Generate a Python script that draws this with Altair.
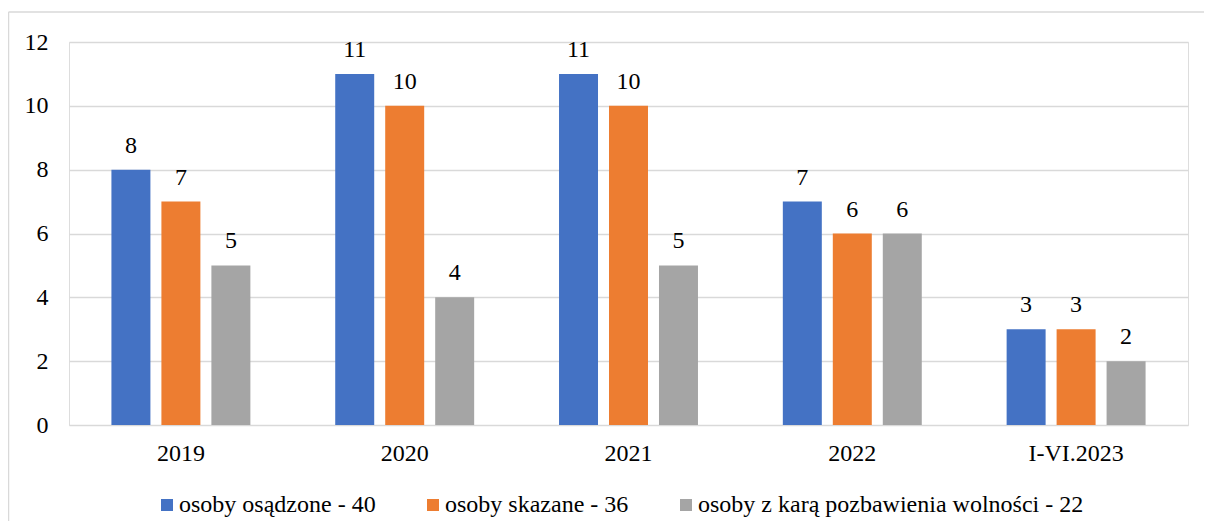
import altair as alt
import pandas as pd

years = ["2019", "2020", "2021", "2022", "I-VI.2023"]
series = ["osoby osądzone - 40", "osoby skazane - 36", "osoby z karą pozbawienia wolności - 22"]
osadzone = [8, 11, 11, 7, 3]
skazane = [7, 10, 10, 6, 3]
pozbawienie = [5, 4, 5, 6, 2]
colors = ["#4472C4", "#ED7D31", "#A5A5A5"]

rows = []
for s, vals in zip(series, [osadzone, skazane, pozbawienie]):
    for y, v in zip(years, vals):
        rows.append({"rok": y, "seria": s, "wartosc": v})
df = pd.DataFrame(rows)

FONT = "Times New Roman"
FS = 24

x_enc = alt.X("rok:N", sort=years, title=None,
              scale=alt.Scale(paddingInner=0.33, paddingOuter=0.165),
              axis=alt.Axis(labelAngle=0, domain=False, ticks=False, labelPadding=16,
                            labelFont=FONT, labelFontSize=FS, labelColor="#000000"))
xo_enc = alt.XOffset("seria:N", sort=series,
                     scale=alt.Scale(paddingInner=0.22, paddingOuter=0.11))
y_enc = alt.Y("wartosc:Q", title=None,
              scale=alt.Scale(domain=[0, 12], nice=False),
              axis=alt.Axis(values=[0, 2, 4, 6, 8, 10, 12], domain=False, ticks=False,
                            labelPadding=21, gridColor="#D9D9D9", gridWidth=1.5,
                            labelFont=FONT, labelFontSize=FS, labelColor="#000000"))

base = alt.Chart(df)

bars = base.mark_bar().encode(
    x=x_enc, xOffset=xo_enc, y=y_enc,
    color=alt.Color("seria:N", sort=series,
                    scale=alt.Scale(domain=series, range=colors),
                    legend=alt.Legend(title=None, orient="none", direction="horizontal",
                                      legendX=86, legendY=451, symbolType="square",
                                      symbolSize=144, symbolStrokeWidth=0,
                                      labelFont=FONT, labelFontSize=FS, labelColor="#000000",
                                      labelOffset=0, columnPadding=45, labelLimit=600)),
)

labels = base.mark_text(font=FONT, fontSize=FS, color="#000000", baseline="alphabetic", dy=-17).encode(
    x=alt.X("rok:N", sort=years), xOffset=alt.XOffset("seria:N", sort=series),
    y=alt.Y("wartosc:Q"), text=alt.Text("wartosc:Q"),
)

frame = pd.DataFrame({"b": [0]})
top_edge = alt.Chart(frame).mark_rule(color="#D9D9D9", strokeWidth=1.5).encode(
    x=alt.value(-60.5), x2=alt.value(1140), y=alt.value(-30))
left_edge = alt.Chart(frame).mark_rule(color="#D9D9D9", strokeWidth=1.5).encode(
    x=alt.value(-60.5), y=alt.value(-30), y2=alt.value(500))

chart = alt.layer(top_edge, left_edge, bars, labels).properties(
    width=1119, height=383,
    autosize=alt.AutoSizeParams(type="none"),
    padding={"left": 61, "top": 34, "right": 16, "bottom": 96},
).configure_view(stroke=None).configure(background="#FFFFFF", font=FONT)

chart.save("out.html", embed_options={"renderer": "svg", "actions": False})
